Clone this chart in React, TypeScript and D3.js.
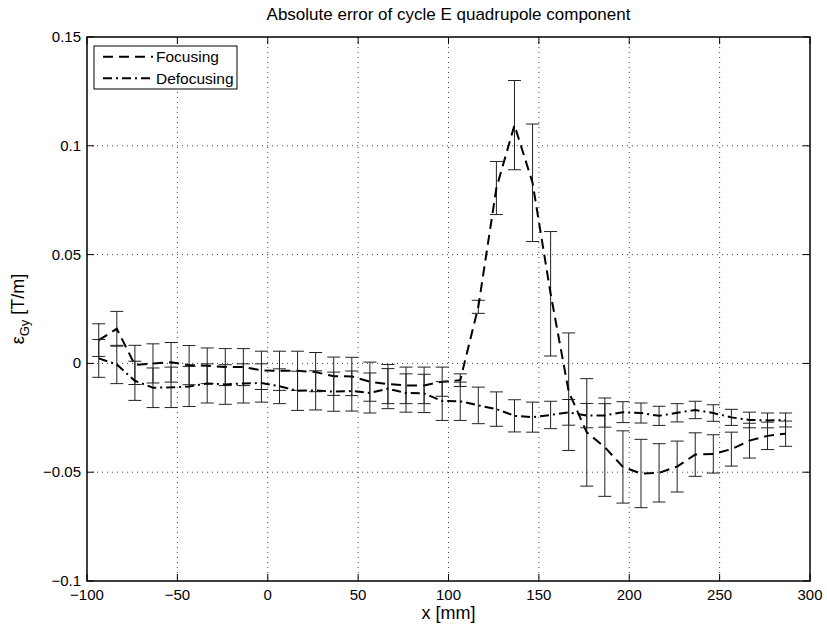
import React from 'react';
import * as d3 from 'd3';

const xPos = [-93.5, -83.5, -73.5, -63.5, -53.5, -43.5, -33.5, -23.5, -13.5, -3.5, 6.5, 16.5, 26.5, 36.5, 46.5, 56.5, 66.5, 76.5, 86.5, 96.5, 106.5, 116.5, 126.5, 136.5, 146.5, 156.5, 166.5, 176.5, 186.5, 196.5, 206.5, 216.5, 226.5, 236.5, 246.5, 256.5, 266.5, 276.5, 286.5];

const focusing = [0.0107, 0.0159, -0.0007, 0.0, 0.0005, -0.0008, -0.0011, -0.0017, -0.0017, -0.0032, -0.0034, -0.0034, -0.004, -0.0059, -0.006, -0.0084, -0.0095, -0.0101, -0.0101, -0.0084, -0.0077, 0.026, 0.0806, 0.1095, 0.083, 0.032, -0.013, -0.0317, -0.0385, -0.0476, -0.0506, -0.0503, -0.0474, -0.0419, -0.0416, -0.0394, -0.0355, -0.0333, -0.0323];
const focusingErr = [0.0075, 0.008, 0.009, 0.009, 0.0091, 0.009, 0.0082, 0.0085, 0.0085, 0.0088, 0.009, 0.009, 0.009, 0.0088, 0.0088, 0.009, 0.009, 0.0084, 0.0084, 0.0067, 0.0029, 0.003, 0.0122, 0.0205, 0.027, 0.0286, 0.027, 0.0247, 0.0226, 0.0166, 0.0157, 0.0134, 0.0117, 0.01, 0.0088, 0.0078, 0.008, 0.0063, 0.0058];

const defocusing = [0.0023, -0.0005, -0.008, -0.0112, -0.011, -0.0106, -0.0092, -0.0097, -0.0092, -0.009, -0.0105, -0.0126, -0.0124, -0.013, -0.0127, -0.0136, -0.0116, -0.0136, -0.0138, -0.0173, -0.0174, -0.0193, -0.021, -0.0241, -0.0247, -0.0237, -0.0225, -0.024, -0.0239, -0.0224, -0.0228, -0.0241, -0.0227, -0.0214, -0.0228, -0.0248, -0.026, -0.0262, -0.026];
const defocusingErr = [0.0087, 0.0088, 0.009, 0.0091, 0.0093, 0.0092, 0.009, 0.0091, 0.009, 0.0088, 0.008, 0.009, 0.009, 0.009, 0.0092, 0.0092, 0.0092, 0.0088, 0.0088, 0.0089, 0.0088, 0.0084, 0.0079, 0.0074, 0.0069, 0.0063, 0.0059, 0.0056, 0.0054, 0.0048, 0.0046, 0.0044, 0.0042, 0.004, 0.0038, 0.0037, 0.0036, 0.0034, 0.0032];

const xTicks = [-100, -50, 0, 50, 100, 150, 200, 250, 300];
const xTickLabels = ['\u2212100', '\u221250', '0', '50', '100', '150', '200', '250', '300'];
const yTicks = [-0.1, -0.05, 0, 0.05, 0.1, 0.15];
const yTickLabels = ['\u22120.1', '\u22120.05', '0', '0.05', '0.1', '0.15'];

const titleText = 'Absolute error of cycle E quadrupole component';
const xLabelText = 'x [mm]';
const seriesNames = ['Focusing', 'Defocusing'];

const FONT = '"Liberation Sans", Arial, Helvetica, sans-serif';

export default function App() {
  const left = 87, right = 810, top = 37, bottom = 581;
  const x = d3.scaleLinear().domain([-100, 300]).range([left, right]);
  const y = d3.scaleLinear().domain([-0.1, 0.15]).range([bottom, top]);

  const line = d3.line<number>().x((_, i) => x(xPos[i])).y((d) => y(d));

  const series = [
    { name: seriesNames[0], vals: focusing, errs: focusingErr, dash: '10,6' },
    { name: seriesNames[1], vals: defocusing, errs: defocusingErr, dash: '9,4,2,4' },
  ];
  const tickLen = 7;
  const cap = 6.5;

  return (
    <svg width={827} height={627} style={{ position: 'absolute', left: 0, top: 0, background: '#fff' }} fontFamily={FONT}>
      <rect x={0} y={0} width={827} height={627} fill="#fff" />
      {/* grid */}
      {xTicks.slice(1, -1).map((t) => (
        <line key={'gx' + t} x1={x(t)} x2={x(t)} y1={top} y2={bottom} stroke="#444" strokeWidth={1} strokeDasharray="1,4" />
      ))}
      {yTicks.slice(1, -1).map((t) => (
        <line key={'gy' + t} x1={left} x2={right} y1={y(t)} y2={y(t)} stroke="#444" strokeWidth={1} strokeDasharray="1,4" />
      ))}
      {/* ticks */}
      {xTicks.map((t) => (
        <g key={'tx' + t}>
          <line x1={x(t)} x2={x(t)} y1={bottom} y2={bottom - tickLen} stroke="#000" />
          <line x1={x(t)} x2={x(t)} y1={top} y2={top + tickLen} stroke="#000" />
        </g>
      ))}
      {yTicks.map((t) => (
        <g key={'ty' + t}>
          <line x1={left} x2={left + tickLen} y1={y(t)} y2={y(t)} stroke="#000" />
          <line x1={right} x2={right - tickLen} y1={y(t)} y2={y(t)} stroke="#000" />
        </g>
      ))}
      {/* series */}
      {series.map((s) => (
        <g key={s.name}>
          {s.vals.map((v, i) => {
            const xx = x(xPos[i]);
            const y1 = y(v + s.errs[i]);
            const y2 = y(v - s.errs[i]);
            return (
              <g key={i} stroke="#222" strokeWidth={1}>
                <line x1={xx} x2={xx} y1={y1} y2={y2} />
                <line x1={xx - cap} x2={xx + cap} y1={y1} y2={y1} />
                <line x1={xx - cap} x2={xx + cap} y1={y2} y2={y2} />
              </g>
            );
          })}
          <path d={line(s.vals) || ''} fill="none" stroke="#000" strokeWidth={2} strokeDasharray={s.dash} />
        </g>
      ))}
      {/* box */}
      <rect x={left} y={top} width={right - left} height={bottom - top} fill="none" stroke="#000" strokeWidth={1.5} />
      {/* tick labels */}
      {xTicks.map((t, i) => (
        <text key={'lx' + t} x={x(t)} y={bottom + 19} fontSize={15} textAnchor="middle">{xTickLabels[i]}</text>
      ))}
      {yTicks.map((t, i) => (
        <text key={'ly' + t} x={left - 6} y={y(t) + 5} fontSize={15} textAnchor="end">{yTickLabels[i]}</text>
      ))}
      {/* labels */}
      <text x={(left + right) / 2} y={20} fontSize={17} textAnchor="middle">{titleText}</text>
      <text x={(left + right) / 2} y={619} fontSize={18} textAnchor="middle">{xLabelText}</text>
      <text transform={`translate(24, ${(top + bottom) / 2}) rotate(-90)`} fontSize={18} textAnchor="middle">
        {'\u03B5'}<tspan fontSize={13} dy={5}>Gy</tspan><tspan dy={-5}>{' [T/m]'}</tspan>
      </text>
      {/* legend */}
      <rect x={94} y={46} width={143} height={43} fill="#fff" stroke="#000" strokeWidth={1} />
      {series.map((s, i) => (
        <g key={'leg' + s.name}>
          <line x1={103} x2={153} y1={56.7 + i * 21.6} y2={56.7 + i * 21.6} stroke="#000" strokeWidth={2} strokeDasharray={s.dash} />
          <text x={156} y={56.7 + i * 21.6 + 5.5} fontSize={15.5}>{s.name}</text>
        </g>
      ))}
    </svg>
  );
}
